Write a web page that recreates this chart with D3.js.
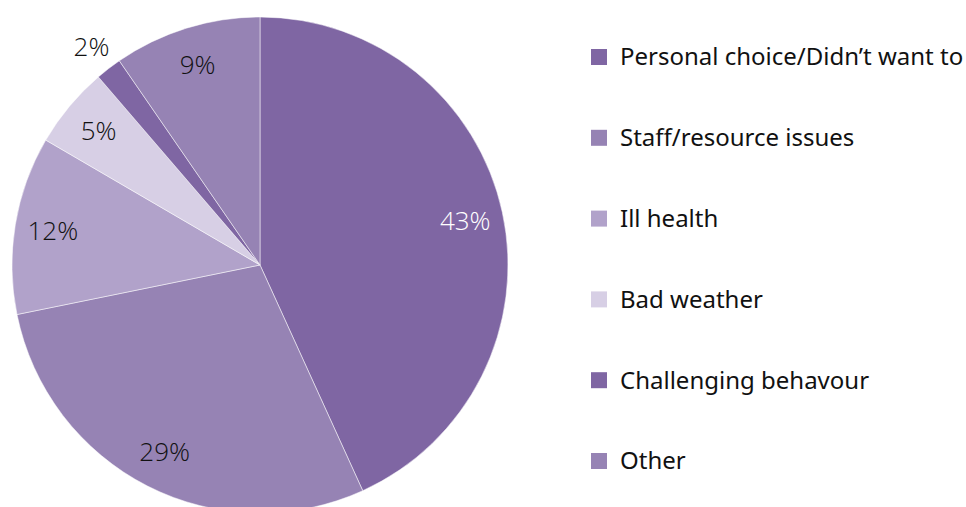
<!DOCTYPE html>
<html>
<head>
<meta charset="utf-8">
<script src="https://cdn.jsdelivr.net/npm/d3@7"></script>
<style>
  html, body { margin: 0; padding: 0; background: #fff; overflow: hidden; }
  svg { display: block; }
</style>
</head>
<body>
<svg id="chart" width="966" height="507"></svg>
<script>
// slice data, clockwise from 12 o'clock
const categories = ["Personal choice/Didn\u2019t want to", "Staff/resource issues", "Ill health",
                    "Bad weather", "Challenging behavour", "Other"];
const values = [43.2, 28.6, 11.6, 5.3, 1.7, 9.6];   // slice sizes as measured
const pctLabels = [43, 29, 12, 5, 2, 9];            // labels as printed
const colors = ["#7f66a3", "#9683b4", "#b1a2ca", "#d7cfe5", "#7f66a3", "#9683b4"];

const svg = d3.select("#chart");
const cx = 260, cy = 265, R = 248;

const pie = d3.pie().sort(null).value(d => d.value);
const arcs = pie(values.map((v, i) => ({value: v, label: pctLabels[i], name: categories[i], color: colors[i]})));

const arc = d3.arc().innerRadius(0).outerRadius(R);
const labelArc = d3.arc().innerRadius(210).outerRadius(210);
const outerArc = d3.arc().innerRadius(276).outerRadius(276);

const g = svg.append("g").attr("transform", `translate(${cx},${cy})`);

g.selectAll("path")
    .data(arcs)
    .join("path")
    .attr("d", arc)
    .attr("fill", d => d.data.color)
    .attr("stroke", "#fff")
    .attr("stroke-width", 0.5);

// small slices get their label outside
g.selectAll("text.pct")
    .data(arcs)
    .join("text")
    .attr("class", "pct")
    .attr("transform", d => `translate(${(d.data.value < 3 ? outerArc : labelArc).centroid(d)})`)
    .attr("text-anchor", "middle")
    .attr("dy", "0.36em")
    .attr("font-family", "'Open Sans', sans-serif")
    .attr("font-weight", 300)
    .attr("font-size", 26)
    .attr("fill", d => d.index === 0 ? "#fff" : "#111")
    .text(d => d.data.label + "%");

// legend
const legendY = d3.scalePoint().domain(categories).range([57, 461]);

const legend = svg.append("g")
    .selectAll("g")
    .data(arcs)
    .join("g")
    .attr("transform", d => `translate(591,${legendY(d.data.name)})`);

legend.append("rect")
    .attr("x", 0)
    .attr("y", -8)
    .attr("width", 16)
    .attr("height", 16)
    .attr("fill", d => d.data.color);

legend.append("text")
    .attr("x", 29)
    .attr("dy", "0.35em")
    .attr("font-family", "'Noto Sans', sans-serif")
    .attr("font-size", 24)
    .attr("fill", "#111")
    .text(d => d.data.name);
</script>
</body>
</html>
